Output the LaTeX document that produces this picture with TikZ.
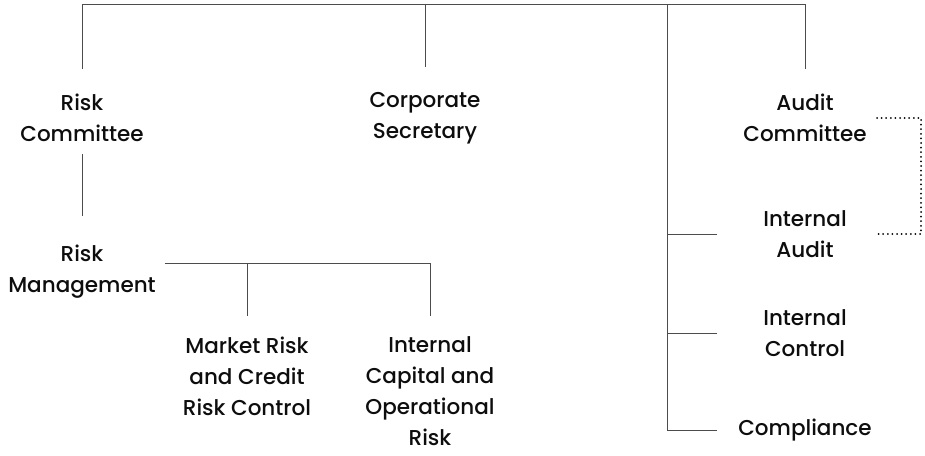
\documentclass[tikz,border=0pt]{standalone}
\usepackage{fontspec}
\setmainfont{Poppins}[UprightFont={* Medium}]
\usetikzlibrary{positioning}
\tikzset{
  unit/.style={align=center,font=\fontsize{21.5}{31}\selectfont,inner sep=0pt,text=black!95},
  link/.style={draw=black!70,line width=0.8pt},
  dotlink/.style={draw=black,line width=2pt,line cap=round,dash pattern=on 0pt off 4.6pt}
}
\begin{document}
\begin{tikzpicture}[x=1pt,y=-1pt]
\useasboundingbox (0,0) rectangle (925,455);

% units
\node[unit] (rc) at (82,118) {Risk\\Committee};
\node[unit] (cs) at (425,118) {Corporate\\Secretary};
\node[unit] (ac) at (805,118) {Audit\\Committee};
\node[unit] (rm) at (82,272) {Risk\\Management};
\node[unit] (mr) at (247,376) {Market Risk\\and Credit\\Risk Control};
\node[unit] (ic) at (430,391) {Internal\\Capital and\\Operational\\Risk};
\node[unit] (ia) at (805,234) {Internal\\Audit};
\node[unit] (ctl) at (805,333) {Internal\\Control};
\node[unit] (cp) at (805,430) {Compliance};

% helper points
\coordinate (top) at (0,4);
\coordinate (trunk) at (667,4);
\coordinate (stub) at (717,0);
\coordinate (dotl) at (877,0);
\coordinate (dotr) at (921,0);

% board line
\draw[link] ([yshift=25pt]rc.north) -- (rc.north |- top) -- (ac.north |- top) -- ([yshift=25pt]ac.north);
\draw[link] (cs.north |- top) -- ([yshift=25pt]cs.north);
\draw[link] (trunk) -- (trunk |- cp);

% audit branches
\draw[link] (trunk |- ia) -- (stub |- ia);
\draw[link] (trunk |- ctl) -- (stub |- ctl);
\draw[link] (trunk |- cp) -- (stub |- cp);
\draw[dotlink] (dotl |- ac) -- (dotr |- ac) -- (dotr |- ia) -- (dotl |- ia);

% risk branch
\draw[link] ([yshift=-12pt]rc.south) -- ([yshift=29pt]rm.north);
\coordinate (bus) at ([shift={(9pt,9pt)}]rm.east);
\draw[link] (bus) -| ([yshift=20pt]ic.north);
\draw[link] (bus -| mr) -- ([yshift=20pt]mr.north);
\end{tikzpicture}
\end{document}
